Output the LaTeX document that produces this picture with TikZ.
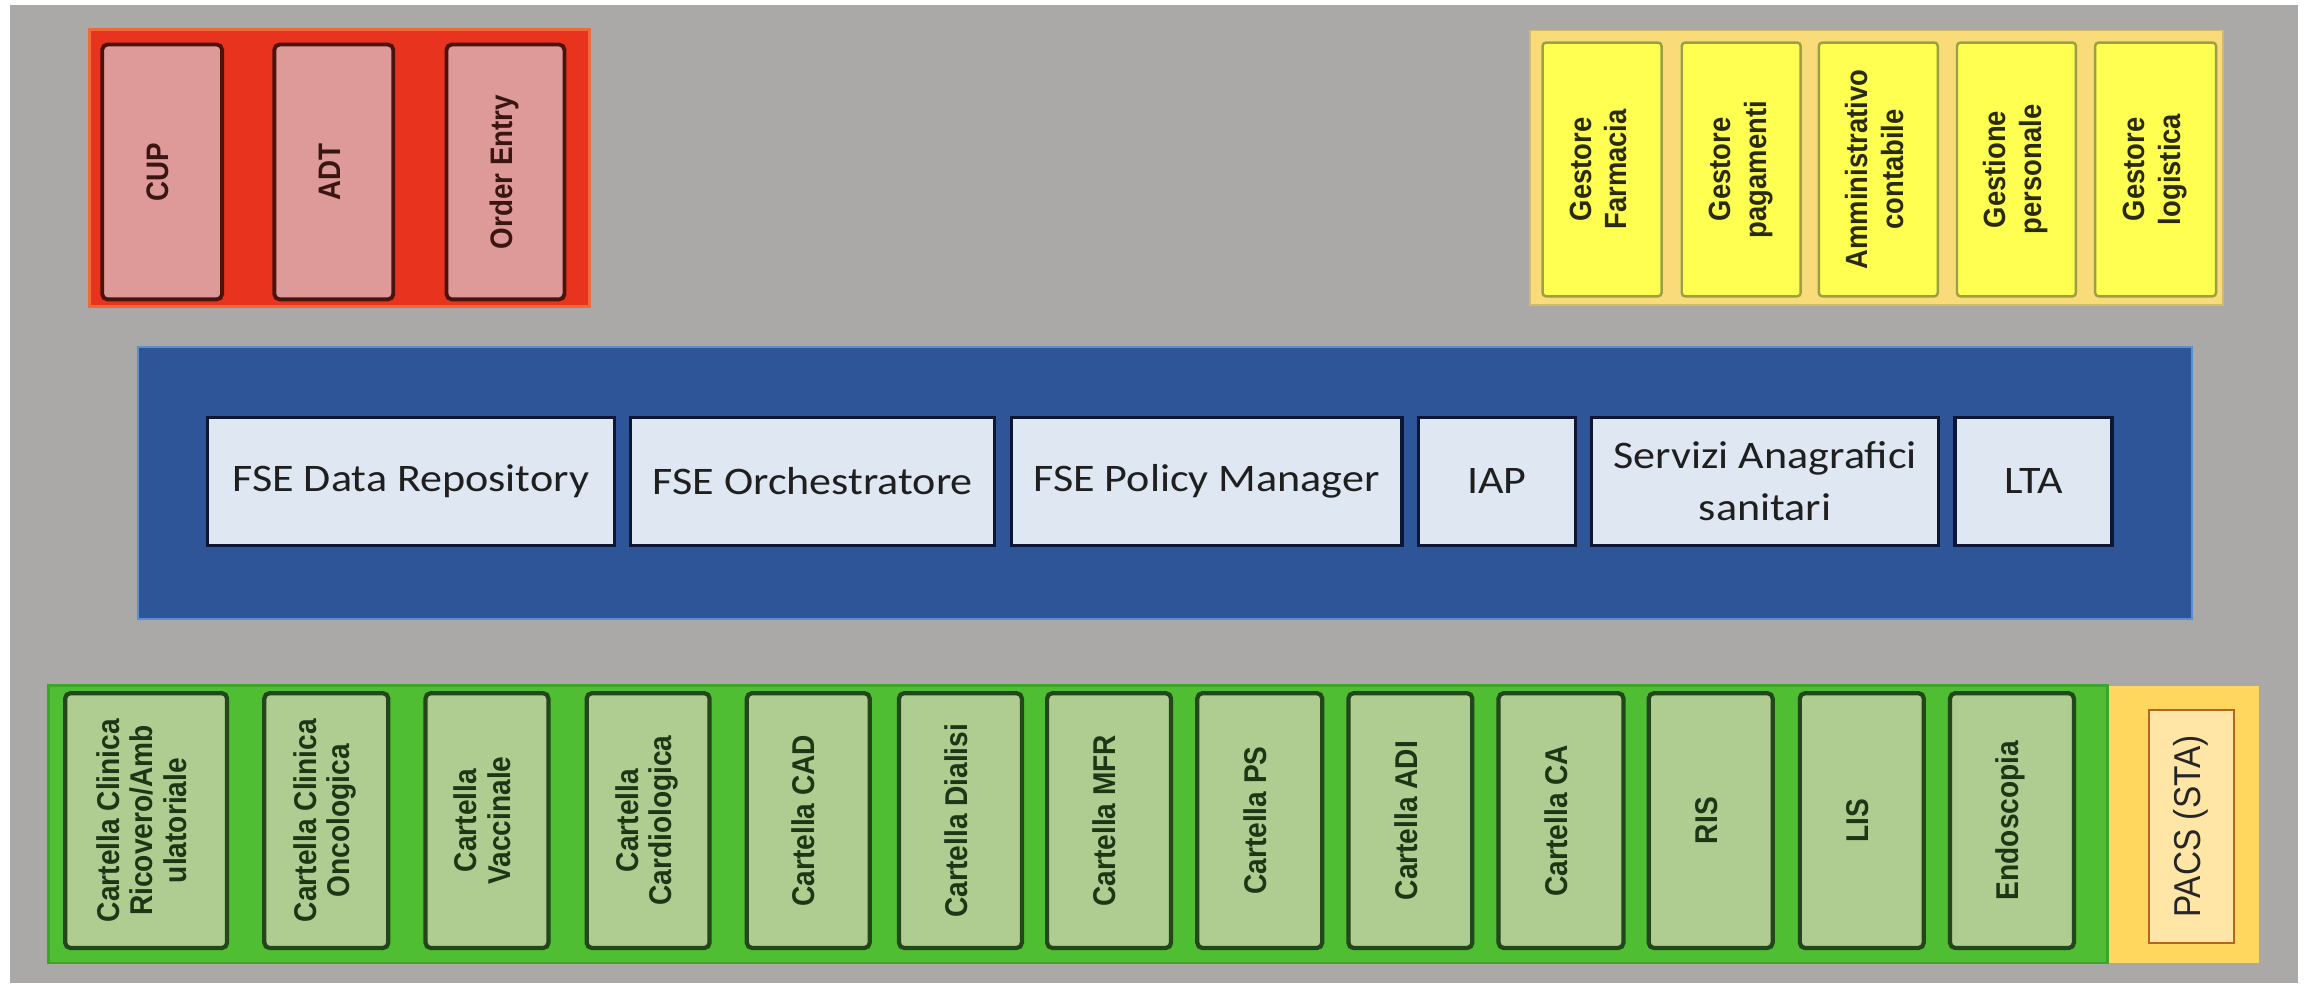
\documentclass[tikz,border=0pt]{standalone}
\usepackage{fontspec}
\usepackage{graphicx}
\setmainfont{Liberation Sans}
\newfontfamily\carlitofont[FakeStretch=1.13]{Carlito}
\definecolor{bgray}{HTML}{ABA8A8}
\definecolor{redc}{HTML}{E8341F}
\definecolor{redcb}{HTML}{EE6A3A}
\definecolor{redf}{HTML}{DE9A98}
\definecolor{redb}{HTML}{4A140E}
\definecolor{redt}{HTML}{3A1612}
\definecolor{yelc}{HTML}{FADB7A}
\definecolor{yelf}{HTML}{FFFF52}
\definecolor{yelb}{HTML}{9AA046}
\definecolor{yelt}{HTML}{2A2A10}
\definecolor{bluec}{HTML}{2E5597}
\definecolor{bluecb}{HTML}{5B8FD0}
\definecolor{bluef}{HTML}{DEE7F2}
\definecolor{blueb}{HTML}{0E1636}
\definecolor{greenc}{HTML}{50BE32}
\definecolor{greencb}{HTML}{3DA52A}
\definecolor{greenf}{HTML}{AFCD91}
\definecolor{greenb}{HTML}{23461B}
\definecolor{greent}{HTML}{1E3616}
\definecolor{pacsc}{HTML}{FFD75E}
\definecolor{pacsf}{HTML}{FFE6A6}
\definecolor{pacsb}{HTML}{B5651D}
\newcommand{\vtext}[1]{\scalebox{1}[1.12]{\begin{tabular}{@{}c@{}}#1\end{tabular}}}
% name, style, x1, y1, x2, y2 (pixels, y from top), text
\newcommand{\hbx}[7]{\node[#2, minimum width={(#5-#3)*0.01cm}, minimum height={(#6-#4)*0.01cm}] (#1) at ({(#3+#5)*0.005},{(983-(#4+#6)*0.5)*0.01}) {#7};}
\newcommand{\vbx}[7]{\node[#2, rotate=90, minimum width={(#6-#4)*0.01cm}, minimum height={(#5-#3)*0.01cm}] (#1) at ({(#3+#5)*0.005},{(983-(#4+#6)*0.5)*0.01}) {\vtext{#7}};}
\tikzset{
  box/.style={inner sep=0pt, outer sep=0pt},
  redcont/.style={box, fill=redc, draw=redcb, line width=0.8pt},
  redbox/.style={box, fill=redf, draw=redb, line width=1.1pt, rounded corners=1.5pt, text=redt, font=\bfseries\fontsize{7.9}{8.5}\selectfont},
  yelcont/.style={box, fill=yelc, draw=yelc!85!black, line width=0.5pt},
  yelbox/.style={box, fill=yelf, draw=yelb, line width=0.7pt, rounded corners=1pt, text=yelt, font=\bfseries\fontsize{7.8}{9}\selectfont},
  bluecont/.style={box, fill=bluec, draw=bluecb, line width=0.6pt},
  bluebox/.style={box, fill=bluef, draw=blueb, line width=0.9pt, text=black!88, font=\carlitofont\fontsize{11.1}{15}\selectfont, align=center},
  greencont/.style={box, fill=greenc, draw=greencb, line width=0.8pt},
  greenbox/.style={box, fill=greenf, draw=greenb, line width=1.2pt, rounded corners=1.5pt, text=greent, font=\bfseries\fontsize{8}{8.5}\selectfont},
  pacscont/.style={box, fill=pacsc},
  pacsbox/.style={box, fill=pacsf, draw=pacsb, line width=0.6pt, text=black!85, font=\fontsize{9.5}{11}\selectfont},
}
\begin{document}
\begin{tikzpicture}
\useasboundingbox (0,0) rectangle (23.05,9.83);
\fill[white] (0,0) rectangle (23.05,9.83);
\fill[bgray] (0.10,0) rectangle (22.98,9.78);
% red group
\hbx{redgrp}{redcont}{89}{29}{589}{306}{}
\vbx{cup}{redbox}{102}{44}{222}{299}{CUP}
\vbx{adt}{redbox}{274}{44}{393}{299}{ADT}
\vbx{oe}{redbox}{446}{44}{564}{299}{Order Entry}
% yellow group
\hbx{yelgrp}{yelcont}{1528}{30}{2221}{305}{}
\vbx{gf}{yelbox}{1541}{42}{1660}{296}{Gestore\\Farmacia}
\vbx{gp}{yelbox}{1680}{42}{1799}{296}{Gestore\\pagamenti}
\vbx{ac}{yelbox}{1817}{42}{1936}{296}{Amministrativo\\contabile}
\vbx{gpe}{yelbox}{1955}{42}{2074}{296}{Gestione\\personale}
\vbx{gl}{yelbox}{2093}{42}{2214}{296}{Gestore\\logistica}
% blue group
\hbx{bluegrp}{bluecont}{136}{347}{2191}{619}{}
\hbx{fdr}{bluebox}{207}{417}{614}{545}{FSE Data Repository}
\hbx{fo}{bluebox}{630}{417}{994}{545}{FSE Orchestratore}
\hbx{fpm}{bluebox}{1010}{417}{1401}{545}{FSE Policy Manager}
\hbx{iap}{bluebox}{1417}{417}{1574}{545}{IAP}
\hbx{sas}{bluebox}{1590}{417}{1937}{545}{Servizi Anagrafici\\sanitari}
\hbx{lta}{bluebox}{1953}{417}{2110}{545}{LTA}
% green group
\hbx{greengrp}{greencont}{47}{685}{2107}{963}{}
\hbx{pacsgrp}{pacscont}{2107}{686}{2257}{963}{}
\vbx{g1}{greenbox}{65}{693}{227}{948}{Cartella Clinica\\Ricovero/Amb\\ulatoriale}
\vbx{g2}{greenbox}{264}{693}{388}{948}{Cartella Clinica\\Oncologica}
\vbx{g3}{greenbox}{425}{693}{548}{948}{Cartella\\Vaccinale}
\vbx{g4}{greenbox}{586}{693}{709}{948}{Cartella\\Cardiologica}
\vbx{g5}{greenbox}{746}{693}{869}{948}{Cartella CAD}
\vbx{g6}{greenbox}{898}{693}{1021}{948}{Cartella Dialisi}
\vbx{g7}{greenbox}{1046}{693}{1170}{948}{Cartella MFR}
\vbx{g8}{greenbox}{1196}{693}{1321}{948}{Cartella PS}
\vbx{g9}{greenbox}{1347}{693}{1471}{948}{Cartella ADI}
\vbx{g10}{greenbox}{1497}{693}{1622}{948}{Cartella CA}
\vbx{g11}{greenbox}{1647}{693}{1771}{948}{RIS}
\vbx{g12}{greenbox}{1798}{693}{1922}{948}{LIS}
\vbx{g13}{greenbox}{1948}{693}{2072}{948}{Endoscopia}
\vbx{pacs}{pacsbox}{2147}{710}{2232}{943}{PACS (STA)}
\end{tikzpicture}
\end{document}
